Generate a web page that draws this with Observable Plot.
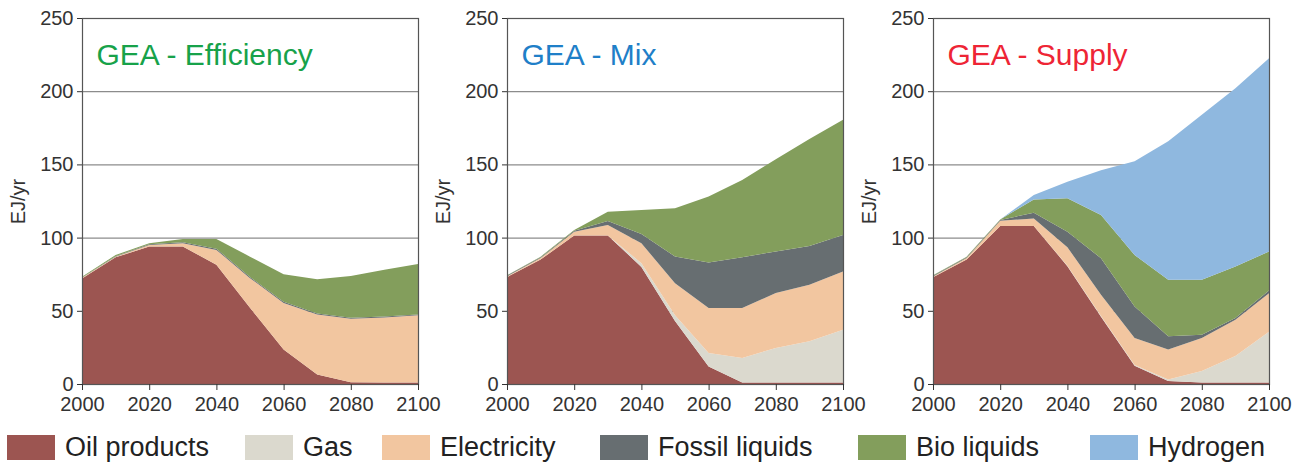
<!DOCTYPE html>
<html>
<head>
<meta charset="utf-8">
<script src="https://cdn.jsdelivr.net/npm/d3@7"></script>
<script src="https://cdn.jsdelivr.net/npm/@observablehq/plot@0.6"></script>
<style>
  html, body { margin: 0; padding: 0; background: #fff; }
  #wrap { position: relative; width: 1305px; height: 466px; overflow: hidden; font-family: "Liberation Sans", Arial, sans-serif; }
  .panel { position: absolute; top: 0; }
  .panel svg { max-width: none; overflow: visible; }
  #legend { position: absolute; left: 7px; width: 1290px; top: 435px; display: flex; justify-content: flex-start; align-items: center; }
  .item { display: flex; align-items: center; flex: none; }
  .item:nth-child(1) { width: 238px; }
  .item:nth-child(2) { width: 137px; }
  .item:nth-child(3) { width: 218px; }
  .item:nth-child(4) { width: 258px; }
  .item:nth-child(5) { width: 232px; }
  .sw { width: 48px; height: 25px; margin-right: 10px; flex: none; }
  .lab { font-size: 27px; color: #222; line-height: 25px; white-space: nowrap; }
</style>
</head>
<body>
<div id="wrap"></div>
<script>
const years = [2000, 2010, 2020, 2030, 2040, 2050, 2060, 2070, 2080, 2090, 2100];
const fuels = ["Oil products", "Gas", "Electricity", "Fossil liquids", "Bio liquids", "Hydrogen"];
const fuelColors = ["#9c5551", "#dbd9ce", "#f2c6a0", "#676e71", "#839e5c", "#8fb8df"];
const scenarios = ["GEA - Efficiency", "GEA - Mix", "GEA - Supply"];
const titleColors = ["#17a24a", "#1f7fc8", "#ee2535"];
const xTicks = [2000, 2020, 2040, 2060, 2080, 2100];
const yTicks = [0, 50, 100, 150, 200, 250];
const yLabel = "EJ/yr";

// GEA - Efficiency (EJ/yr per carrier)
const effOil      = [72, 86.5, 94, 94, 81.4, 52, 23.5, 6.5, 1.2, 1, 1];
const effGas      = [0, 0, 0, 0, 0, 0, 0, 0, 0, 0, 0];
const effElec     = [0.5, 0.5, 1, 2.2, 10.2, 20.3, 31.8, 40.9, 43.4, 44.5, 45.9];
const effFossil   = [0.2, 0.3, 0.4, 0.6, 0.8, 0.8, 0.8, 0.7, 0.6, 0.6, 0.6];
const effBio      = [0.5, 0.9, 0.8, 2.3, 6.7, 13.9, 18.9, 23.5, 28.6, 31.9, 34.4];
const effHydrogen = [0, 0, 0, 0, 0, 0, 0, 0, 0, 0, 0];

// GEA - Mix
const mixOil      = [73, 85, 101.5, 101.5, 80, 43, 12, 1, 1, 1, 1];
const mixGas      = [0, 0, 0, 0, 2.5, 4, 9.2, 16.8, 23.6, 28.2, 36.1];
const mixElec     = [0.5, 1, 2.5, 7.1, 13.6, 21.9, 30.7, 34.1, 37.5, 38.6, 39.8];
const mixFossil   = [0.5, 0.5, 0.6, 2.8, 6.4, 18.2, 31.1, 34.7, 28.4, 26.5, 24.9];
const mixBio      = [0.3, 0.5, 0.6, 6.3, 16.4, 32.9, 45, 52.7, 63, 73, 78.7];
const mixHydrogen = [0, 0, 0, 0, 0, 0, 0, 0, 0, 0, 0];

// GEA - Supply
const supOil      = [73, 85, 108, 108, 80.5, 46, 12.5, 2, 1, 1, 1];
const supGas      = [0, 0, 0, 0, 0.3, 0.5, 0.5, 1, 7.8, 18.1, 34.7];
const supElec     = [0.5, 1, 3.5, 5, 12.6, 14.5, 18.4, 20.5, 22.6, 24.8, 26.3];
const supFossil   = [0.5, 0.5, 0.5, 4, 10.6, 24.9, 21.6, 9.1, 2.3, 1.1, 1.9];
const supBio      = [0.3, 0.5, 0.4, 9.1, 22.8, 29.6, 35.2, 38.6, 37.5, 35.3, 26.6];
const supHydrogen = [0, 0, 0, 3, 11.4, 30.5, 64, 94.6, 112.7, 121.7, 132];

const series = [
  [effOil, effGas, effElec, effFossil, effBio, effHydrogen],
  [mixOil, mixGas, mixElec, mixFossil, mixBio, mixHydrogen],
  [supOil, supGas, supElec, supFossil, supBio, supHydrogen]
];

const wrap = document.getElementById("wrap");
const panelLefts = [0, 425, 851];

scenarios.forEach((scen, si) => {
  const rows = [];
  fuels.forEach((fuel, fi) => {
    years.forEach((yr, yi) => rows.push({fuel, year: yr, value: series[si][fi][yi]}));
  });
  const chart = Plot.plot({
    width: 436,
    height: 420,
    marginLeft: 82,
    marginRight: 18,
    marginTop: 18,
    marginBottom: 36,
    style: {fontFamily: "'Liberation Sans', Arial, sans-serif", fontSize: "20px", color: "#333", background: "transparent"},
    x: {domain: [2000, 2100]},
    y: {domain: [0, 250]},
    color: {domain: fuels, range: fuelColors},
    marks: [
      Plot.ruleY(yTicks.filter(d => d > 0 && d < 250), {stroke: "#8c8c8c", strokeWidth: 1.2}),
      Plot.areaY(rows, {x: "year", y: "value", fill: "fuel", order: null}),
      Plot.frame({stroke: "#555", strokeWidth: 1.2}),
      Plot.axisX({ticks: xTicks, tickFormat: d => String(d), tickSize: 6, tickPadding: 6, label: null, stroke: "#333"}),
      Plot.axisY({ticks: yTicks, tickSize: 5, tickPadding: 4, label: null, stroke: "#333"}),
      Plot.text([yLabel], {frameAnchor: "left", dx: -64, rotate: -90, textAnchor: "middle", lineAnchor: "middle", fontSize: 20, fill: "#333"}),
      Plot.text([scen], {frameAnchor: "top-left", dx: 14, dy: 25, textAnchor: "start", lineAnchor: "top", fontSize: 30, fill: titleColors[si]})
    ]
  });
  const div = document.createElement("div");
  div.className = "panel";
  div.style.left = panelLefts[si] + "px";
  div.appendChild(chart);
  wrap.appendChild(div);
});

const legend = document.createElement("div");
legend.id = "legend";
fuels.forEach((f, i) => {
  const it = document.createElement("div");
  it.className = "item";
  const sw = document.createElement("div");
  sw.className = "sw";
  sw.style.background = fuelColors[i];
  const lab = document.createElement("span");
  lab.className = "lab";
  lab.textContent = f;
  it.appendChild(sw);
  it.appendChild(lab);
  legend.appendChild(it);
});
wrap.appendChild(legend);
</script>
</body>
</html>
